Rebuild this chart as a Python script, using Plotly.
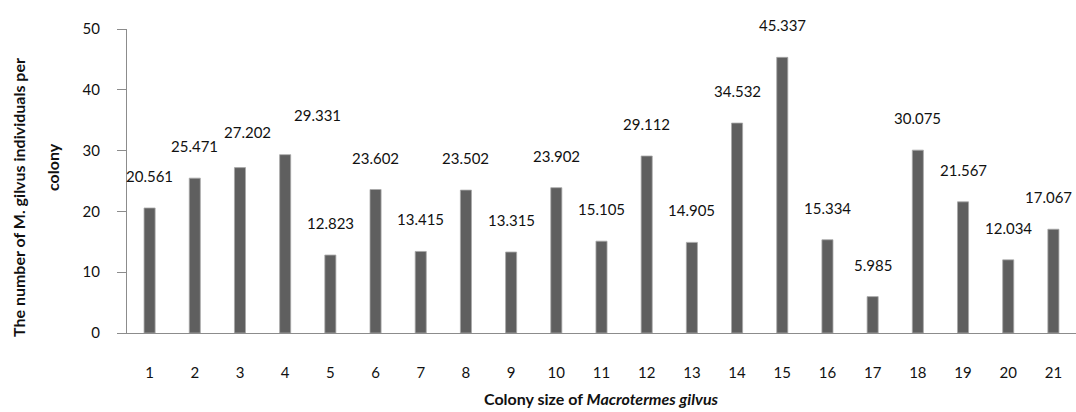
import plotly.graph_objects as go

categories = list(range(1, 22))
values = [20.561, 25.471, 27.202, 29.331, 12.823, 23.602, 13.415, 23.502, 13.315, 23.902,
          15.105, 29.112, 14.905, 34.532, 45.337, 15.334, 5.985, 30.075, 21.567, 12.034, 17.067]
value_labels = ["20.561", "25.471", "27.202", "29.331", "12.823", "23.602", "13.415", "23.502",
                "13.315", "23.902", "15.105", "29.112", "14.905", "34.532", "45.337", "15.334",
                "5.985", "30.075", "21.567", "12.034", "17.067"]
y_ticks = [0, 10, 20, 30, 40, 50]

# label nudges (pixels) to mimic the original label placement
label_dx = {3: 8, 4: 32, 21: -5}
label_dy = {3: 4, 4: 8}

FONT = "Lato"
TXT = "#111111"
AX = "#8c8c8c"

fig = go.Figure()
fig.add_trace(go.Bar(
    x=categories, y=values, width=0.245,
    marker=dict(color="#5f5f5f", line=dict(color="#a8a8a8", width=0.8)),
    hoverinfo="x+y",
))

annotations = []
for c, v, t in zip(categories, values, value_labels):
    annotations.append(dict(
        x=c, y=v, xref="x", yref="y", text=t, showarrow=False,
        xshift=label_dx.get(c, 0), yshift=32 + label_dy.get(c, 0),
        font=dict(family=FONT, size=15, color=TXT),
        xanchor="center", yanchor="middle",
    ))

extra = [
    dict(x=18, y=198, text="<b>The number of M. gilvus individuals per</b>", textangle=-90, size=16),
    dict(x=52, y=167, text="<b>colony</b>", textangle=-90, size=16),
    dict(x=601, y=398, text="<b>Colony size of <i>Macrotermes gilvus</i></b>", textangle=0, size=16),
]

W, H = 1076, 412
ML, MR, MT, MB = 127, 0, 29, 79
pw, ph = W - ML - MR, H - MT - MB
for e in extra:
    annotations.append(dict(
        x=(e["x"] - ML) / pw, y=(H - MB - e["y"]) / ph, xref="paper", yref="paper",
        text=e["text"], showarrow=False, textangle=e["textangle"],
        font=dict(family=FONT, size=e["size"], color=TXT),
        xanchor="center", yanchor="middle",
    ))

fig.update_layout(
    width=W, height=H,
    margin=dict(l=ML, r=MR, t=MT, b=MB, autoexpand=False),
    paper_bgcolor="white", plot_bgcolor="white",
    showlegend=False,
    annotations=annotations,
    font=dict(family=FONT, color=TXT),
)
fig.update_xaxes(
    range=[0.5, 21.5], tickmode="array", tickvals=categories,
    ticktext=[str(c) for c in categories],
    showline=True, linecolor=AX, linewidth=1.3, ticks="", showgrid=False, zeroline=False,
    tickfont=dict(family=FONT, size=15, color=TXT), ticklabelstandoff=26, automargin=False,
)
fig.update_yaxes(
    range=[0, 50], tickmode="array", tickvals=y_ticks,
    showline=True, linecolor=AX, linewidth=1.3, ticks="outside", ticklen=9, tickcolor=AX,
    tickwidth=1.3, showgrid=False, zeroline=False,
    tickfont=dict(family=FONT, size=15, color=TXT), ticklabelstandoff=14, automargin=False,
)

fig.write_html("out.html", config={"displayModeBar": False},
               post_script="document.body.style.margin='0';document.body.style.overflow='hidden';")
